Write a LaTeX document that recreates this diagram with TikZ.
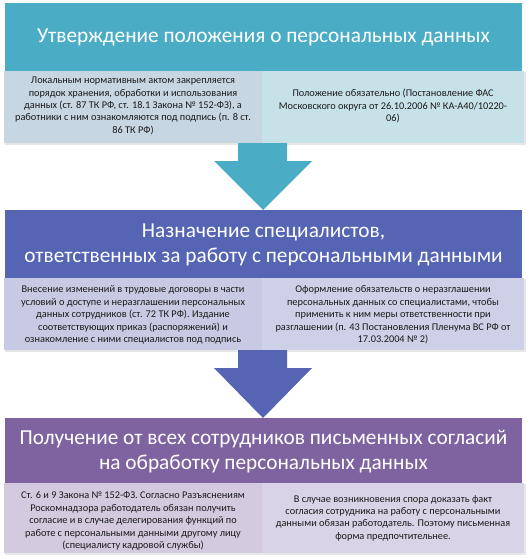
\documentclass[tikz,border=0pt]{standalone}
\usepackage{fontspec}
\setmainfont{Carlito}
\definecolor{hA}{HTML}{4BACC6}
\definecolor{sAl}{HTML}{C6D6E3}
\definecolor{sAr}{HTML}{C6E1E8}
\definecolor{hB}{HTML}{5664B4}
\definecolor{sBl}{HTML}{C8CAE3}
\definecolor{sBr}{HTML}{CDD0E7}
\definecolor{hC}{HTML}{7F63A1}
\definecolor{sCl}{HTML}{D3CAE0}
\definecolor{sCr}{HTML}{D9D3E7}
\definecolor{txt}{HTML}{1A1A1A}
\definecolor{shd}{HTML}{E6E6E6}
\tikzset{
  x=1pt, y=-1pt,
  headtext/.style={text=white, font=\fontsize{21.3}{25}\selectfont, align=center, inner sep=0pt},
  subtext/.style={text=txt, font=\fontsize{10.3}{12.4}\selectfont, align=center, inner sep=0pt},
}
\begin{document}
\begin{tikzpicture}
\useasboundingbox (0,0) rectangle (530,559);
\fill[white] (0,0) rectangle (530,559);
% ---------- block 1
\fill[shd] (5,72) rectangle (526,145);
\fill[hA] (5,3) rectangle (522,71);
\fill[sAl] (4,71) rectangle (262,143);
\fill[sAr] (262,71) rectangle (524,143);
\node[headtext] (h1) at (263.5,37) {Утверждение положения о персональных данных};
\node[subtext] (s1l) at (133,106) {Локальным нормативным актом закрепляется\\порядок хранения, обработки и использования\\данных (ст. 87 ТК РФ, ст. 18.1 Закона № 152-ФЗ), а\\работники с ним ознакомляются под подпись (п. 8 ст.\\86 ТК РФ)};
\node[subtext] (s1r) at (393,106) {Положение обязательно (Постановление ФАС\\Московского округа от 26.10.2006 № КА-А40/10220-\\06)};
% arrow 1
\fill[hA] (238,143) -- (287,143) -- (287,161) -- (312,161) -- (263,210) -- (214,161) -- (238,161) -- cycle;
% ---------- block 2
\fill[shd] (5,279) rectangle (526,352);
\fill[hB] (5,210) rectangle (522,278);
\fill[sBl] (4,278) rectangle (262,350);
\fill[sBr] (262,278) rectangle (524,350);
\node[headtext] (h2) at (263.5,245) {Назначение специалистов,\\ответственных за работу с персональными данными};
\node[subtext] (s2l) at (133,315) {Внесение изменений в трудовые договоры в части\\условий о доступе и неразглашении персональных\\данных сотрудников (ст. 72 ТК РФ). Издание\\соответствующих приказ (распоряжений) и\\ознакомление с ними специалистов под подпись};
\node[subtext] (s2r) at (393,315) {Оформление обязательств о неразглашении\\персональных данных со специалистами, чтобы\\применить к ним меры ответственности при\\разглашении (п. 43 Постановления Пленума ВС РФ от\\17.03.2004 № 2)};
% arrow 2
\fill[hB] (238,350) -- (287,350) -- (287,368) -- (312,368) -- (263,418) -- (214,368) -- (238,368) -- cycle;
% ---------- block 3
\fill[shd] (5,484) rectangle (526,555);
\fill[hC] (5,418) rectangle (522,483);
\fill[sCl] (4,483) rectangle (262,553);
\fill[sCr] (262,483) rectangle (524,553);
\node[headtext] (h3) at (263.5,452) {Получение от всех сотрудников письменных согласий\\на обработку персональных данных};
\node[subtext] (s3l) at (133,521) {Ст. 6 и 9 Закона № 152-ФЗ. Согласно Разъяснениям\\Роскомнадзора работодатель обязан получить\\согласие и в случае делегирования функций по\\работе с персональными данными другому лицу\\(специалисту кадровой службы)};
\node[subtext] (s3r) at (393,518) {В случае возникновения спора доказать факт\\согласия сотрудника на работу с персональными\\данными обязан работодатель. Поэтому письменная\\форма предпочтительнее.};
\end{tikzpicture}
\end{document}
